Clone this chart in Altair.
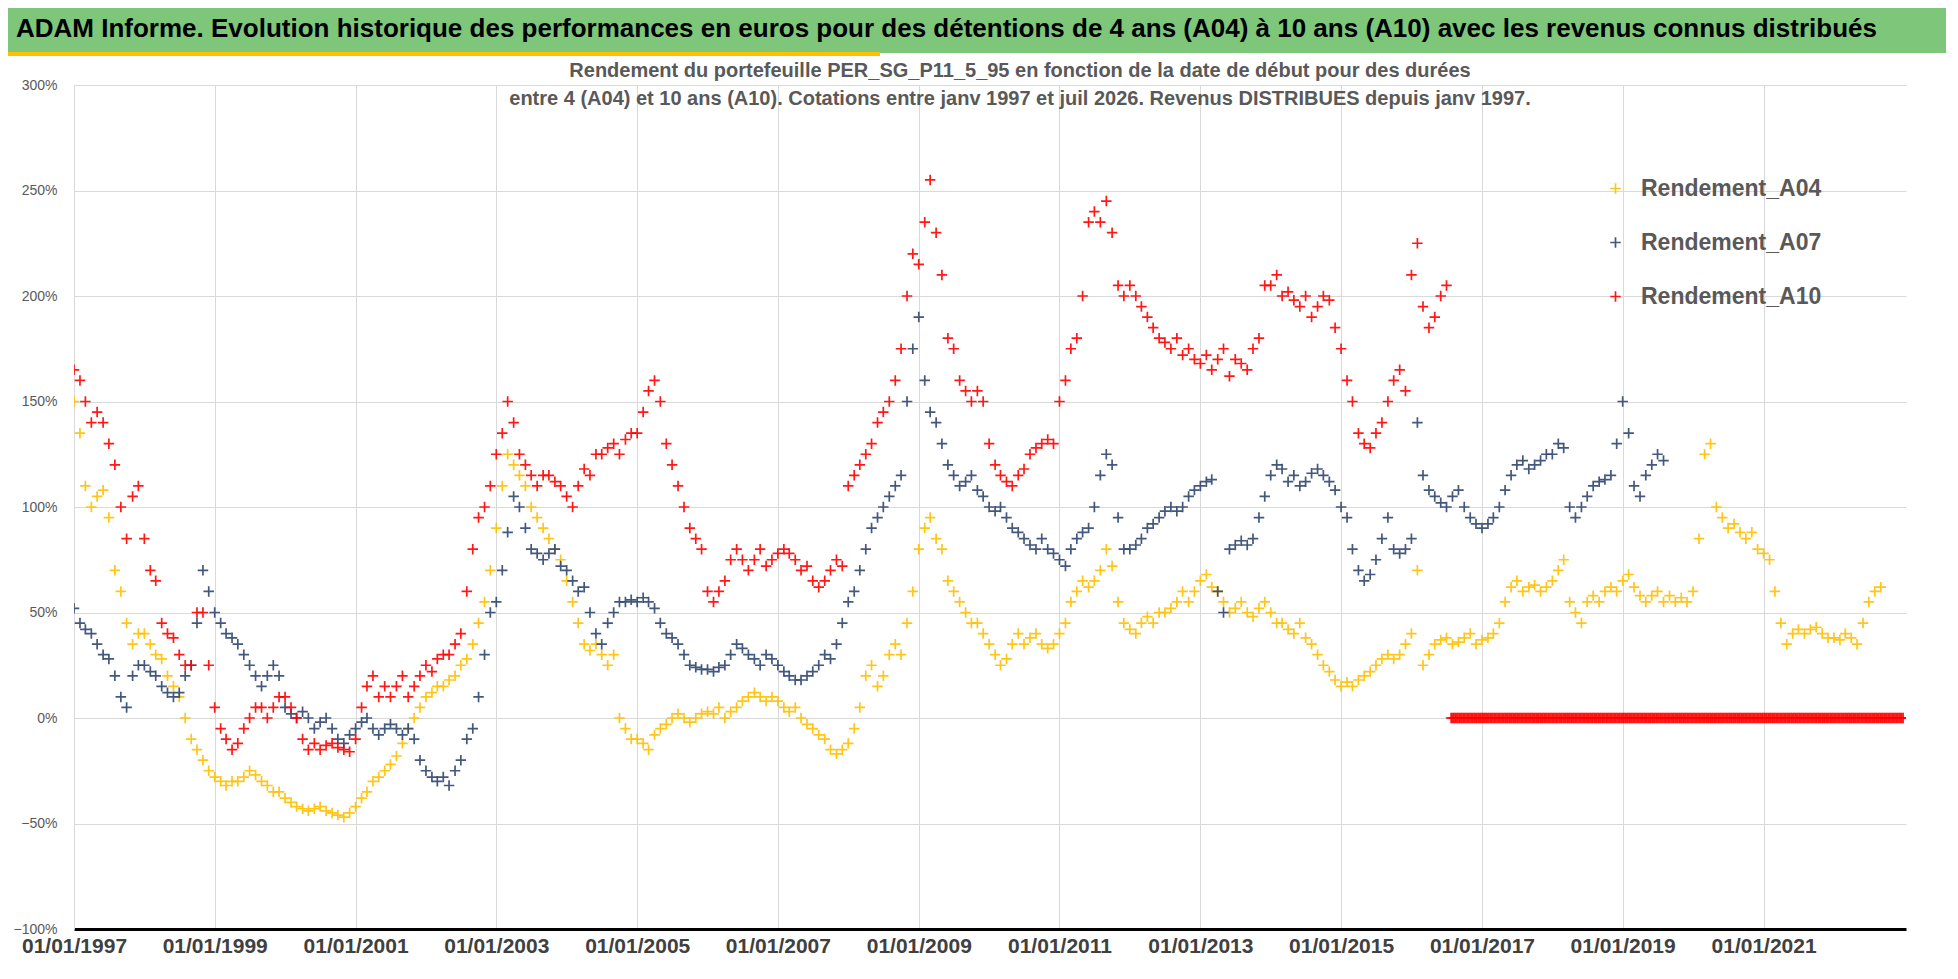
import altair as alt
import pandas as pd

A04 = [150,135,110,100,105,108,95,70,60,45,35,40,
       40,35,30,28,20,15,10,0,-10,-15,-20,-25,
       -28,-30,-32,-30,-30,-28,-25,-27,-30,-32,-35,-35,
       -38,-40,-42,-43,-44,-43,-42,-44,-45,-46,-47,-45,
       -42,-38,-35,-30,-28,-25,-22,-18,-12,-5,0,5,
       10,12,15,15,18,20,25,28,35,45,55,70,
       90,110,125,120,115,110,100,95,90,85,80,75,
       65,55,45,35,32,35,30,25,30,0,-5,-10,
       -10,-12,-15,-8,-5,-3,0,2,0,-2,0,2,
       3,2,5,0,3,5,8,10,12,10,8,10,
       8,5,3,5,0,-3,-5,-8,-10,-15,-17,-15,
       -12,-5,5,20,25,15,20,30,35,30,45,60,
       80,90,95,85,80,65,60,55,50,45,45,40,
       35,30,25,28,35,40,35,38,40,35,33,35,
       40,45,55,60,65,62,65,70,80,72,55,45,
       42,40,45,48,45,50,50,52,55,60,55,60,
       65,68,62,60,55,50,52,55,50,48,52,55,
       50,45,45,42,40,45,38,35,30,25,22,18,
       15,17,15,18,20,22,25,28,30,28,30,35,
       40,70,25,30,35,37,38,35,36,38,40,35,
       37,38,40,45,55,62,65,60,62,63,60,62,
       65,70,75,55,50,45,55,58,55,60,62,60,
       65,68,62,58,55,58,60,55,58,55,57,55,
       60,85,125,130,100,95,90,92,88,85,88,80,
       78,75,60,45,35,40,42,40,42,43,40,38,
       38,37,40,38,35,45,55,60,62]

A07 = [52,45,42,40,35,30,28,20,10,5,20,25,
       25,22,20,15,12,10,12,20,25,45,70,60,
       50,45,40,38,35,30,25,20,15,20,25,20,
       5,2,0,3,0,-5,-2,0,-5,-10,-12,-8,
       -5,-2,0,-5,-8,-5,-3,-5,-8,-5,-10,-20,
       -25,-28,-30,-28,-32,-25,-20,-10,-5,10,30,50,
       55,70,88,105,100,90,80,78,75,78,80,72,
       70,65,60,62,50,40,35,45,50,55,55,56,
       55,57,55,52,45,40,38,35,30,25,24,23,
       23,22,24,25,30,35,33,30,28,25,30,28,
       25,22,20,18,18,20,22,25,30,28,35,45,
       55,60,70,80,90,95,100,105,110,115,150,175,
       190,160,145,140,130,120,115,110,112,115,108,105,
       100,98,100,95,90,88,85,82,80,85,80,78,
       75,72,80,85,88,90,100,115,125,120,95,80,
       80,82,85,90,92,95,98,100,98,100,105,108,
       110,112,113,60,50,80,82,84,82,85,95,105,
       115,120,118,112,115,110,112,116,118,115,112,108,
       100,95,80,70,65,68,75,85,95,80,78,80,
       85,140,115,108,105,102,100,105,108,100,95,92,
       90,92,95,100,108,115,120,122,118,120,122,125,
       125,130,128,100,95,100,105,110,112,113,115,130,
       150,135,110,105,115,120,125,122]

A10 = [165,160,150,140,145,140,130,120,100,85,105,110,
       85,70,65,45,40,38,30,25,25,50,50,25,
       5,-5,-10,-15,-12,-5,0,5,5,0,5,10,
       10,5,0,-10,-15,-12,-15,-13,-12,-14,-15,-16,
       -10,5,15,20,10,15,10,15,20,10,15,20,
       25,22,28,30,30,35,40,60,80,95,100,110,
       125,135,150,140,125,120,115,110,115,115,112,110,
       105,100,110,118,115,125,125,128,130,125,132,135,
       135,145,155,160,150,130,120,110,100,90,85,80,
       60,55,60,65,75,80,75,70,75,80,72,75,
       78,80,78,75,70,72,65,62,65,70,75,72,
       110,115,120,125,130,140,145,150,160,175,200,220,
       215,235,255,230,210,180,175,160,155,150,155,150,
       130,120,115,112,110,115,118,125,128,130,132,130,
       150,160,175,180,200,235,240,235,245,230,205,200,
       205,200,195,190,185,180,178,175,180,172,175,170,
       168,172,165,170,175,162,170,168,165,175,180,205,
       205,210,200,202,198,195,200,190,195,200,198,185,
       175,160,150,135,130,128,135,140,150,160,165,155,
       210,225,195,185,190,200,205]

ZERO_START = "2016-07-25"
ZERO_END = "2023-01-01"

SERIES = ["Rendement_A04", "Rendement_A07", "Rendement_A10"]
COLORS = ["#FFC000", "#2F4670", "#FF0000"]
TICK_YEARS = list(range(1997, 2022, 2))
TITLE = "ADAM Informe. Evolution historique des performances en euros pour des détentions de 4 ans (A04) à 10 ans (A10) avec les revenus connus distribués"
SUBTITLE = ["Rendement du portefeuille PER_SG_P11_5_95  en fonction de la date de début pour des durées",
            "entre 4 (A04) et 10 ans (A10). Cotations entre janv 1997 et juil 2026. Revenus DISTRIBUES depuis janv 1997."]

frames = []
for name, vals in zip(SERIES, [A04, A07, A10]):
    d = pd.date_range("1997-01-01", periods=len(vals), freq="MS")
    frames.append(pd.DataFrame({"date": d, "v": [x / 100 for x in vals], "s": name}))
zd = pd.date_range(ZERO_START, ZERO_END, freq="7D")
frames.append(pd.DataFrame({"date": zd, "v": [0.0] * len(zd), "s": "Rendement_A10"}))
df = pd.concat(frames)
df["date"] = df["date"].dt.strftime("%Y-%m-%d")

W, H = 1832, 844
PLUS = "M-1,0L1,0M0,-1L0,1"

pts = alt.Chart(df).mark_point(shape=PLUS, filled=False, strokeWidth=1.7, size=110, opacity=0.9, clip=True).encode(
    x=alt.X("date:T", title=None,
            scale=alt.Scale(domain=["1997-01-01", "2023-01-10"]),
            axis=alt.Axis(values=[f"{y}-01-01" for y in TICK_YEARS], format="%d/%m/%Y",
                          labelFontSize=21, labelFontWeight="bold", labelColor="#404040",
                          labelFont="Liberation Sans", gridColor="#d9d9d9", domainColor="#000000",
                          domainWidth=3, ticks=False, labelPadding=6, labelFlush=False)),
    y=alt.Y("v:Q", title=None,
            scale=alt.Scale(domain=[-1, 3]),
            axis=alt.Axis(values=[-1, -0.5, 0, 0.5, 1, 1.5, 2, 2.5, 3], format=".0%",
                          labelFontSize=14, labelColor="#595959", labelFont="Liberation Sans",
                          gridColor="#d9d9d9", domainColor="#d9d9d9", ticks=False, labelPadding=17)),
    color=alt.Color("s:N", title=None,
                    scale=alt.Scale(domain=SERIES, range=COLORS),
                    legend=alt.Legend(orient="none", legendX=1530, legendY=92,
                                      symbolType=PLUS, symbolSize=110, symbolStrokeWidth=1.7,
                                      labelFontSize=23, labelFontWeight="bold", labelColor="#595959",
                                      labelFont="Liberation Sans", labelLimit=400, rowPadding=30,
                                      symbolOffset=0, labelOffset=14)),
)

band = alt.Chart(pd.DataFrame({"a": [0]})).mark_rect(color="#7DC67A").encode(
    x=alt.value(-74), x2=alt.value(1900), y=alt.value(-85), y2=alt.value(-32))
uline = alt.Chart(pd.DataFrame({"a": [0]})).mark_rect(color="#FFC000").encode(
    x=alt.value(-74), x2=alt.value(806), y=alt.value(-33), y2=alt.value(-29))
bline = alt.Chart(pd.DataFrame({"a": [0]})).mark_rect(color="#FFC000").encode(
    x=alt.value(-74), x2=alt.value(241), y=alt.value(H + 48), y2=alt.value(H + 53))
title = alt.Chart(pd.DataFrame({"t": [TITLE]})).mark_text(
    align="left", baseline="middle", fontSize=26, fontWeight="bold", font="Liberation Sans",
    color="#000000").encode(x=alt.value(-58), y=alt.value(-56), text="t:N")
sub = alt.Chart(pd.DataFrame({"t": [SUBTITLE]})).mark_text(
    align="center", baseline="middle", fontSize=20, fontWeight="bold", font="Liberation Sans",
    color="#595959", lineHeight=28).encode(x=alt.value(946), y=alt.value(-14), text="t")

chart = alt.layer(band, uline, bline, title, sub, pts).properties(
    width=W, height=H,
    padding={"left": 66, "top": 77, "right": 40, "bottom": 40},
    autosize=alt.AutoSizeParams(type="none"),
).configure_view(stroke=None)

chart.save("out.html", embed_options={"renderer": "svg", "actions": False})
